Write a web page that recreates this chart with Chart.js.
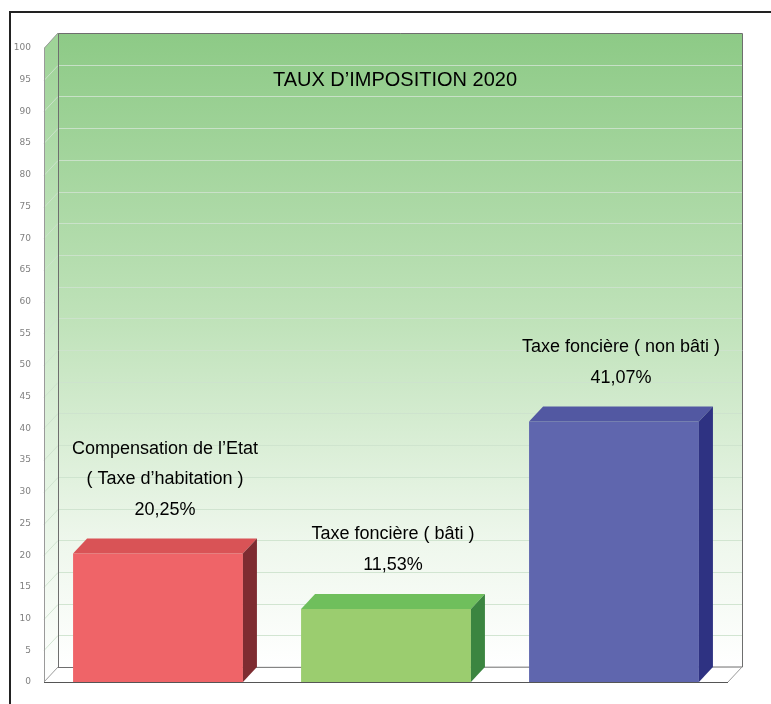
<!DOCTYPE html>
<html>
<head>
<meta charset="utf-8">
<script src="https://cdn.jsdelivr.net/npm/chart.js@4/dist/chart.umd.min.js"></script>
<style>
  html, body { margin: 0; padding: 0; background: #fff; }
  #wrap { width: 771px; height: 704px; position: relative; }
</style>
</head>
<body>
<div id="wrap"><canvas id="tauxChart"></canvas></div>
<script>
// donnees
const categories = ['Compensation de l’Etat ( Taxe d’habitation )', 'Taxe foncière ( bâti )', 'Taxe foncière ( non bâti )'];
const taux = [20.25, 11.53, 41.07];
const etiquettes = [
    ['Compensation de l’Etat', '( Taxe d’habitation )'],
    ['Taxe foncière ( bâti )'],
    ['Taxe foncière ( non bâti )']
];
const titre = 'TAUX D’IMPOSITION 2020';

// couleurs des barres : face, dessus, cote
const couleurFace = ['#ef6468', '#9bcd6f', '#5f66ae'];
const couleurDessus = ['#d95356', '#6fbf5c', '#5258a2'];
const couleurCote = ['#7e2c31', '#3b8540', '#2e3282'];

const DX = 14, DY = 15;

const fond3d = {
    id: 'fond3d',
    beforeDatasetsDraw(chart) {
        const { ctx, chartArea: a, scales: { y } } = chart;
        ctx.save();

        // cadre noir
        ctx.strokeStyle = '#222';
        ctx.lineWidth = 2;
        ctx.beginPath();
        ctx.moveTo(10, 704);
        ctx.lineTo(10, 12);
        ctx.lineTo(771, 12);
        ctx.stroke();

        // mur du fond
        const g = ctx.createLinearGradient(0, a.top - DY, 0, a.bottom - DY);
        g.addColorStop(0, '#8dca86');
        g.addColorStop(0.45, '#bfe2b9');
        g.addColorStop(0.8, '#eef7ec');
        g.addColorStop(1, '#ffffff');
        ctx.fillStyle = g;
        ctx.fillRect(a.left + DX, a.top - DY, a.right - a.left, a.bottom - a.top);

        // mur de gauche
        const g2 = ctx.createLinearGradient(0, a.top, 0, a.bottom);
        g2.addColorStop(0, '#9fd398');
        g2.addColorStop(0.5, '#d3ecd0');
        g2.addColorStop(1, '#ffffff');
        ctx.fillStyle = g2;
        ctx.beginPath();
        ctx.moveTo(a.left, a.top);
        ctx.lineTo(a.left + DX, a.top - DY);
        ctx.lineTo(a.left + DX, a.bottom - DY);
        ctx.lineTo(a.left, a.bottom);
        ctx.closePath();
        ctx.fill();

        // sol
        ctx.fillStyle = '#ffffff';
        ctx.beginPath();
        ctx.moveTo(a.left, a.bottom);
        ctx.lineTo(a.left + DX, a.bottom - DY);
        ctx.lineTo(a.right + DX, a.bottom - DY);
        ctx.lineTo(a.right, a.bottom);
        ctx.closePath();
        ctx.fill();

        // grille
        ctx.lineWidth = 1;
        ctx.strokeStyle = 'rgba(205,226,205,0.9)';
        y.ticks.forEach(t => {
            if (t.value === 0 || t.value === 100) return;
            const py = Math.round(y.getPixelForValue(t.value)) + 0.5;
            ctx.beginPath();
            ctx.moveTo(a.left, py);
            ctx.lineTo(a.left + DX, py - DY);
            ctx.lineTo(a.right + DX, py - DY);
            ctx.stroke();
        });

        // aretes
        ctx.strokeStyle = '#6e6e6e';
        ctx.beginPath();
        ctx.moveTo(a.left + DX + 0.5, a.bottom - DY);
        ctx.lineTo(a.left + DX + 0.5, a.top - DY + 0.5);
        ctx.lineTo(a.right + DX + 0.5, a.top - DY + 0.5);
        ctx.lineTo(a.right + DX + 0.5, a.bottom - DY);
        ctx.lineTo(a.left + DX, a.bottom - DY + 0.5);
        ctx.stroke();
        ctx.strokeStyle = '#9a9a9a';
        ctx.beginPath();
        ctx.moveTo(a.left + 0.5, a.bottom);
        ctx.lineTo(a.left + 0.5, a.top);
        ctx.lineTo(a.left + DX, a.top - DY);
        ctx.moveTo(a.left, a.bottom);
        ctx.lineTo(a.left + DX, a.bottom - DY);
        ctx.moveTo(a.right, a.bottom);
        ctx.lineTo(a.right + DX, a.bottom - DY);
        ctx.stroke();
        ctx.strokeStyle = '#555';
        ctx.beginPath();
        ctx.moveTo(a.left, a.bottom + 0.5);
        ctx.lineTo(a.right, a.bottom + 0.5);
        ctx.stroke();

        // titre
        ctx.fillStyle = '#000';
        ctx.font = '20px "Liberation Sans", Arial, sans-serif';
        ctx.textAlign = 'center';
        ctx.textBaseline = 'middle';
        ctx.fillText(titre, (a.left + a.right) / 2 + 9, 80);
        ctx.restore();
    },
    afterDatasetsDraw(chart) {
        const { ctx } = chart;
        const meta = chart.getDatasetMeta(0);
        ctx.save();
        meta.data.forEach((bar, i) => {
            const p = bar.getProps(['x', 'y', 'base', 'width'], true);
            const l = p.x - p.width / 2, r = p.x + p.width / 2;
            // dessus
            ctx.fillStyle = couleurDessus[i];
            ctx.beginPath();
            ctx.moveTo(l, p.y);
            ctx.lineTo(l + DX, p.y - DY);
            ctx.lineTo(r + DX, p.y - DY);
            ctx.lineTo(r, p.y);
            ctx.closePath();
            ctx.fill();
            // cote
            ctx.fillStyle = couleurCote[i];
            ctx.beginPath();
            ctx.moveTo(r, p.y);
            ctx.lineTo(r + DX, p.y - DY);
            ctx.lineTo(r + DX, p.base - DY);
            ctx.lineTo(r, p.base);
            ctx.closePath();
            ctx.fill();

            // etiquettes
            const lignes = etiquettes[i].concat([taux[i].toFixed(2).replace('.', ',') + '%']);
            ctx.fillStyle = '#000';
            ctx.font = '18px "Liberation Sans", Arial, sans-serif';
            ctx.textAlign = 'center';
            ctx.textBaseline = 'middle';
            const bas = p.y - DY - 29;
            lignes.forEach((t, k) => {
                ctx.fillText(t, p.x + DX / 2, bas - (lignes.length - 1 - k) * 30.5);
            });
        });
        ctx.restore();
    }
};

new Chart(document.getElementById('tauxChart'), {
    type: 'bar',
    data: {
        labels: categories,
        datasets: [{
            data: taux,
            backgroundColor: couleurFace,
            borderWidth: 0,
            categoryPercentage: 1,
            barPercentage: 0.745
        }]
    },
    options: {
        responsive: true,
        maintainAspectRatio: false,
        animation: false,
        layout: { padding: { top: 48, right: 43, bottom: 22, left: 0 } },
        plugins: {
            legend: { display: false },
            tooltip: { enabled: false }
        },
        scales: {
            x: { display: false },
            y: {
                min: 0,
                max: 100,
                ticks: {
                    stepSize: 5,
                    padding: 5,
                    color: '#808080',
                    font: { size: 9, family: 'DejaVu Sans' }
                },
                grid: { display: false },
                border: { display: false },
                afterFit(scale) { scale.width = 44; }
            }
        }
    },
    plugins: [fond3d]
});
</script>
</body>
</html>
